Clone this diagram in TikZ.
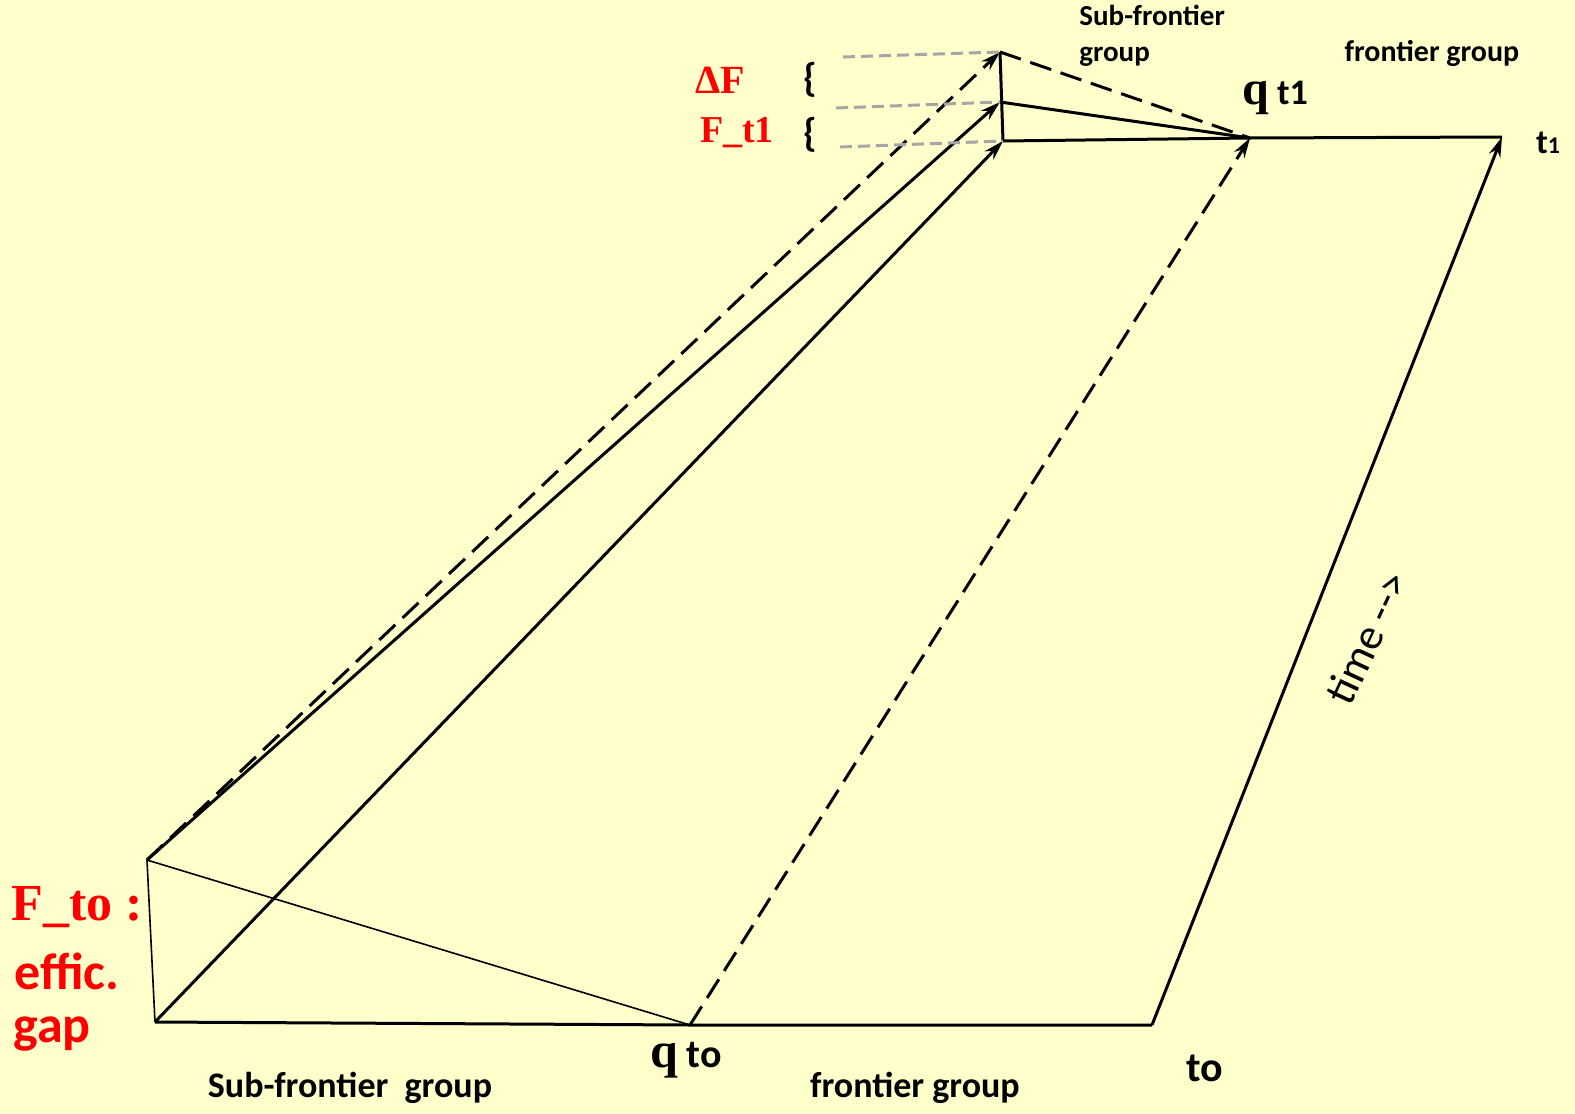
\documentclass[tikz,border=0pt]{standalone}
\usepackage{fontspec}
\setmainfont{Liberation Serif}
\setsansfont{Carlito}
\usetikzlibrary{arrows.meta}
\definecolor{paper}{RGB}{255,255,204}

\begin{document}
\begin{tikzpicture}[
    x=0.5pt, y=-0.5pt,
    >=Stealth,
    edge/.style={line width=1.5pt},
    thinedge/.style={line width=0.8pt},
    dashedge/.style={edge, dash pattern=on 11pt off 5pt},
    guide/.style={line width=1.5pt, draw=black!35, dash pattern=on 6pt off 3pt},
    arrow/.style={-{Stealth[length=10pt,width=6pt]}},
    lbl/.style={font=\sffamily\bfseries\fontsize{18}{20}\selectfont, inner sep=0pt},
    smalllbl/.style={font=\sffamily\bfseries\fontsize{15}{18}\selectfont, inner sep=0pt},
    redlbl/.style={font=\bfseries\fontsize{20}{22}\selectfont, text=red, inner sep=0pt},
]
\fill[paper] (0,0) rectangle (1575,1114);
\useasboundingbox (0,0) rectangle (1575,1114);

% corners of the two time slices
\coordinate (ftop) at (147,860);
\coordinate (fbot) at (155,1022);
\coordinate (qto) at (690,1025);
\coordinate (to) at (1152,1025);
\coordinate (tlow) at (1003,141);
\coordinate (tmid) at (1000,102);
\coordinate (ttop) at (1000,52);
\coordinate (qt1) at (1250,138);
\coordinate (t1) at (1502,137);

% free ends of the grey guides
\coordinate (gtop) at (843,57);
\coordinate (gmid) at (836,108);
\coordinate (glow) at (840,147);

% slice at to
\draw[thinedge] (ftop) -- (fbot);
\draw[thinedge] (ftop) -- (qto);
\draw[edge] (fbot) -- (qto) -- (to);

% slice at t1
\draw[edge] (tlow) -- (ttop);
\draw[edge] (tlow) -- (qt1) -- (t1);
\draw[edge] (tmid) -- (qt1);
\draw[dashedge] (ttop) -- (qt1);

% paths through time
\draw[edge, arrow] (fbot) -- (tlow);
\draw[edge, arrow] (ftop) -- (tmid);
\draw[dashedge, arrow] (ftop) -- (ttop);
\draw[dashedge, arrow] (qto) -- (qt1);
\draw[edge, arrow] (to) -- (t1);

\draw[guide] (gtop) -- (ttop);
\draw[guide] (gmid) -- (tmid);
\draw[guide] (glow) -- (tlow);

% labels
\node[redlbl] (dF) at (720,80) {ΔF};
\node[redlbl, font=\bfseries\fontsize{19}{22}\selectfont] (Ft1) at (737,133) {F\_t1};
\node[lbl, font=\sffamily\bfseries\fontsize{20}{22}\selectfont] (brtop) at (810,80) {\{};
\node[lbl, font=\sffamily\bfseries\fontsize{20}{22}\selectfont] (brlow) at (810,135) {\{};
\node[smalllbl, font=\sffamily\bfseries\fontsize{14.5}{18}\selectfont, anchor=west, align=left] (subtop) at (1079,36) {Sub-frontier\\group};
\node[smalllbl] (fronttop) at (1432,53) {frontier group};
\node[lbl] (qt1lbl) at (1275,98) {{\rmfamily\fontsize{24}{26}\selectfont q} t1};
\node[lbl, font=\sffamily\bfseries\fontsize{17}{20}\selectfont] (t1lbl) at (1548,143) {t{\fontsize{12}{14}\selectfont 1}};

\node[redlbl, font=\bfseries\fontsize{26}{30}\selectfont] (Fto) at (77,907) {F\_to :};
\node[redlbl, font=\sffamily\bfseries\fontsize{26}{30}\selectfont] (effic) at (67,971) {effic.};
\node[redlbl, font=\sffamily\bfseries\fontsize{26}{30}\selectfont] (gap) at (52,1034) {gap};

\node[lbl] (qtolbl) at (686,1060) {{\rmfamily\fontsize{25}{27}\selectfont q} {\fontsize{20}{22}\selectfont to}};
\node[lbl] (subbot) at (350,1088) {Sub-frontier\ \ group};
\node[lbl] (frontbot) at (915,1088) {frontier group};
\node[lbl, font=\sffamily\bfseries\fontsize{21}{24}\selectfont] (tolbl) at (1205,1068) {to};
\node[lbl, font=\sffamily\fontsize{22}{24}\selectfont, rotate=65] (time) at (1367,638) {time -\kern0pt->};
\end{tikzpicture}
\end{document}
